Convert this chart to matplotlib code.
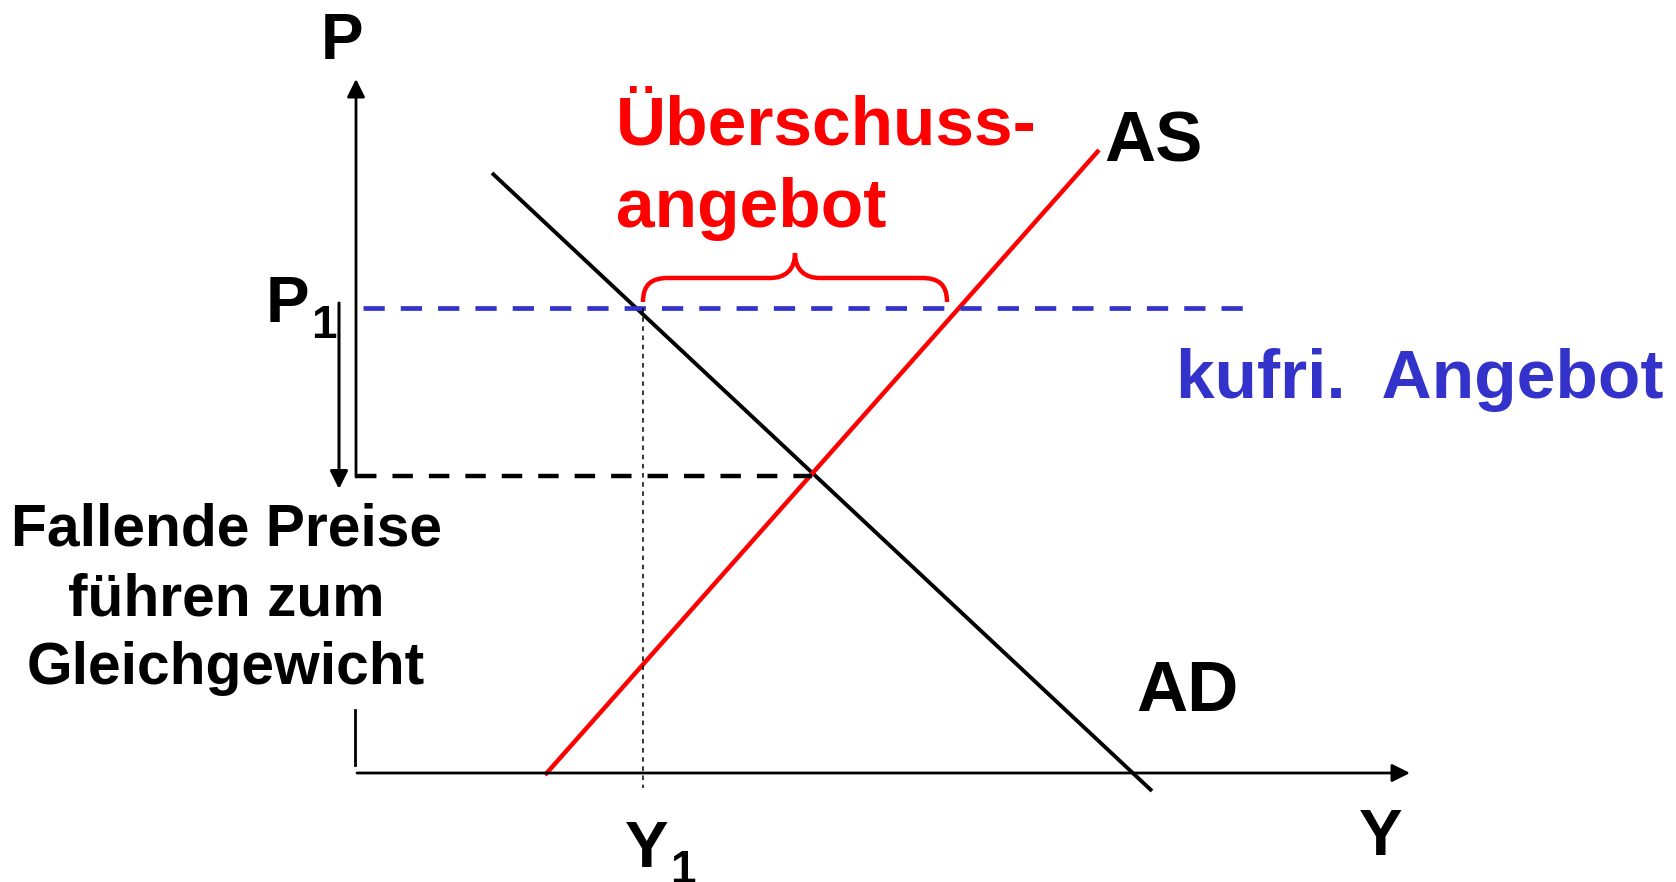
import matplotlib
matplotlib.use("Agg")
import matplotlib.pyplot as plt
from matplotlib.path import Path
from matplotlib.patches import PathPatch

# ---- data (model units: 1 unit = 100 px of the reference) ----
AD_Y = [1.36, 7.96]
AD_P = [6.00, -0.18]
AS_Y = [1.89, 7.43]
AS_P = [-0.02, 6.23]
P1 = 4.65
Y1 = 2.85
Y_EQ = 4.56
P_EQ = 2.97
KUFRI_END = 8.89
BRACE_Y = [2.87, 5.91]

LABEL_P = "P"
LABEL_Y = "Y"
LABEL_AS = "AS"
LABEL_AD = "AD"
LABEL_EXCESS = ["Überschuss-", "angebot"]
LABEL_KUFRI = "kufri.  Angebot"
LABEL_FALL = ["Fallende Preise", "führen zum", "Gleichgewicht"]

RED = "#FF0000"
BLUE = "#3333CC"
FONT = ["Liberation Sans", "DejaVu Sans"]

W, H = 1676, 882
fig = plt.figure(figsize=(W / 100, H / 100), dpi=100)
ax = fig.add_axes([0, 0, 1, 1])
ax.set_xlim(-3.56, 13.20)
ax.set_ylim(-1.09, 7.73)
ax.axis("off")


def px(x, y):
    return (x - 356) / 100.0, (773 - y) / 100.0


# axes
arrow_kw = dict(arrowstyle="-|>", lw=2.0, color="black", mutation_scale=27,
                shrinkA=0, shrinkB=0)
ax.annotate("", xy=px(356, 79), xytext=px(356, 477), arrowprops=arrow_kw)
ax.plot(*zip(px(355, 710), px(355, 765)), color="black", lw=2.0)
ax.annotate("", xy=px(1410, 773), xytext=px(357, 773), arrowprops=arrow_kw)

# curves
ax.plot(AD_Y, AD_P, color="black", lw=2.8, solid_capstyle="butt")
ax.plot(AS_Y, AS_P, color=RED, lw=3.2, solid_capstyle="butt")

# P1 dashed (blue)
ax.plot([0.07, KUFRI_END], [P1, P1], color=BLUE, lw=3.4,
        dashes=(4.5, 3.4))
# equilibrium dashed (black)
ax.plot([0.0, Y_EQ], [P_EQ, P_EQ], color="black", lw=3.2,
        dashes=(4.6, 3.6))
# Y1 dotted
ax.plot([Y1 + 0.02, Y1 + 0.02], [P1, -0.15], color="black", lw=1.1,
        dashes=(3, 3))

# falling price arrow
ax.annotate("", xy=px(339, 489), xytext=px(339, 303),
            arrowprops=dict(arrowstyle="-|>", lw=2.2, color="black",
                            mutation_scale=27, shrinkA=0, shrinkB=0))

# curly brace
x0, x1 = BRACE_Y
xm = (x0 + x1) / 2
yb, yf, yt = px(0, 302)[1], px(0, 278)[1], px(0, 253)[1]
r = 0.25
verts = [
    (x0, yb), (x0, yb + 0.18), (x0 + 0.09, yf), (x0 + r, yf),
    (xm - r, yf),
    (xm - 0.10, yf), (xm, yf + 0.08), (xm, yt),
    (xm, yf + 0.08), (xm + 0.10, yf), (xm + r, yf),
    (x1 - r, yf),
    (x1 - 0.09, yf), (x1, yb + 0.18), (x1, yb),
]
codes = [Path.MOVETO, Path.CURVE4, Path.CURVE4, Path.CURVE4,
         Path.LINETO,
         Path.CURVE4, Path.CURVE4, Path.CURVE4,
         Path.CURVE4, Path.CURVE4, Path.CURVE4,
         Path.LINETO,
         Path.CURVE4, Path.CURVE4, Path.CURVE4]
ax.add_patch(PathPatch(Path(verts, codes), fill=False, edgecolor=RED,
                       lw=3.2, capstyle="butt"))

# texts
tk = dict(fontfamily=FONT, fontweight="bold", va="baseline")
ax.text(*px(342, 59), LABEL_P, ha="center", fontsize=46, **tk)
ax.text(*px(266, 322), "P", ha="left", fontsize=47, **tk)
ax.text(*px(311, 338), "1", ha="left", fontsize=33, **tk)
ax.text(*px(625, 867), "Y", ha="left", fontsize=47, **tk)
ax.text(*px(670, 883), "1", ha="left", fontsize=33, **tk)
ax.text(*px(1381, 855), LABEL_Y, ha="center", fontsize=47, **tk)
ax.text(*px(1104, 162), LABEL_AS, ha="left", fontsize=51, **tk)
ax.text(*px(1136, 711), LABEL_AD, ha="left", fontsize=51, **tk)
ax.text(*px(616, 144), LABEL_EXCESS[0], ha="left", fontsize=50,
        color=RED, **tk)
ax.text(*px(616, 227), LABEL_EXCESS[1], ha="left", fontsize=50,
        color=RED, **tk)
ax.text(*px(1176, 398), LABEL_KUFRI, ha="left", fontsize=50,
        color=BLUE, **tk)
for line, yb_ in zip(LABEL_FALL, [545, 616, 684]):
    ax.text(*px(226, yb_), line, ha="center", fontsize=42.3, **tk)

fig.savefig("out.png", dpi=100)
